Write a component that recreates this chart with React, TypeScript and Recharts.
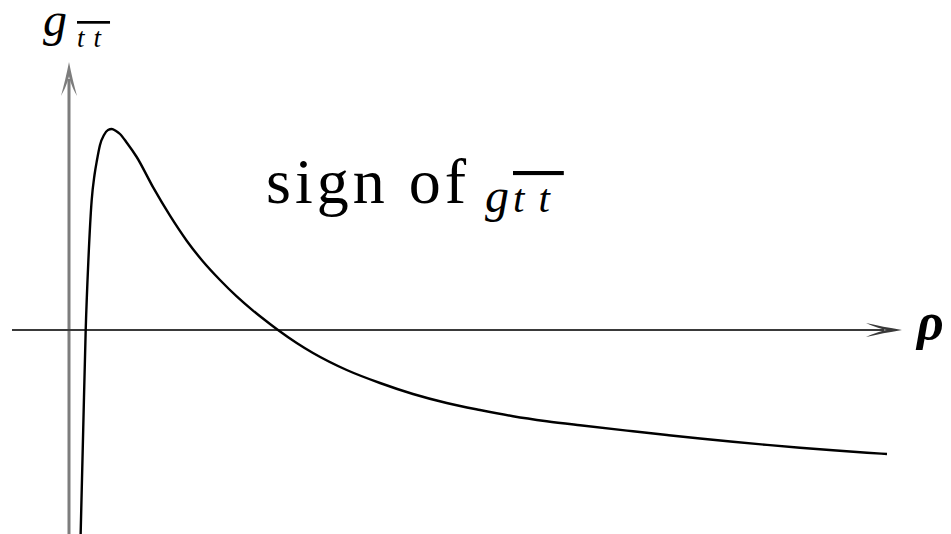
import React from 'react'
import { LineChart, Line, XAxis, YAxis, ReferenceLine } from 'recharts'

// Sampled curve of g_tt against rho
const rho = [
  0.115, 0.142, 0.167, 0.194, 0.227, 0.255, 0.28, 0.31, 0.35, 0.39, 0.427, 0.47,
  0.51, 0.58, 0.677, 0.843, 1.01, 1.177, 1.34, 1.51, 1.677, 1.84, 2.01, 2.09,
  2.277, 2.44, 2.777, 3.11, 3.44, 3.777, 4.11, 4.44, 4.777, 5.11, 5.64, 5.98,
  6.31, 6.64, 6.98, 7.31, 7.64, 7.98, 8.18,
]
const gtt = [
  -2.1, -1.0, 0, 0.7, 1.3, 1.55, 1.7, 1.85, 1.95, 2.0, 2.01, 1.99,
  1.96, 1.87, 1.73, 1.423, 1.143, 0.893, 0.685, 0.5, 0.336, 0.194, 0.06, 0,
  -0.13, -0.23, -0.4, -0.53, -0.64, -0.73, -0.8, -0.862, -0.912, -0.953, -1.013, -1.05,
  -1.085, -1.118, -1.149, -1.177, -1.203, -1.227, -1.24,
]

// Axis extents (in data units)
const rhoDomain = [-0.69, 8.82]
const gDomain = [-2.04, 3.3]
const rhoAxisStart = -0.57
const rhoAxisEnd = 8.33
const gAxisEnd = 2.68

const data = rho.map((r, i) => ({ rho: r, g: gtt[i] }))

const W = 951
const H = 534

// Line with a LaTeX-style arrowhead at its end point
function arrowShape(color: string, width: number, len: number, half: number) {
  return (props: any) => {
    const { x1, y1, x2, y2 } = props
    const ang = Math.atan2(y2 - y1, x2 - x1)
    const deg = (ang * 180) / Math.PI
    const bx = x2 - Math.cos(ang) * len * 0.5
    const by = y2 - Math.sin(ang) * len * 0.5
    const head = `M0,0 C${-len * 0.35},${-half * 0.3} ${-len * 0.7},${-half * 0.65} ${-len},${-half}
      C${-len * 0.75},${-half * 0.4} ${-len * 0.55},${-half * 0.12} ${-len * 0.42},0
      C${-len * 0.55},${half * 0.12} ${-len * 0.75},${half * 0.4} ${-len},${half}
      C${-len * 0.7},${half * 0.65} ${-len * 0.35},${half * 0.3} 0,0 Z`
    return (
      <g>
        <line x1={x1} y1={y1} x2={bx} y2={by} stroke={color} strokeWidth={width} />
        <path d={head} fill={color} transform={`translate(${x2},${y2}) rotate(${deg})`} />
      </g>
    )
  }
}

const serif = '"Liberation Serif"'

const roman = { fontFamily: serif }
const italic = { fontFamily: serif, fontStyle: 'italic' }
const barred = { fontFamily: serif, fontStyle: 'italic', textDecoration: 'overline' }

// Labels and caption, laid over the plot
function Annotations() {
  return (
    <svg
      width={W}
      height={H}
      style={{ position: 'absolute', left: 0, top: 0, pointerEvents: 'none' }}
    >
      <g fill="#000">
        {/* vertical axis label */}
        <text x={43} y={36} style={{ ...italic, fontSize: 48 }}>g</text>
        <text x={77} y={47} style={{ ...barred, fontSize: 27, letterSpacing: 9 }}>tt</text>

        {/* caption */}
        <text x={266} y={203} style={{ ...roman, fontSize: 64, letterSpacing: 4 }}>sign of</text>
        <text x={485} y={212} style={{ ...italic, fontSize: 48 }}>g</text>
        <text x={513} y={212} style={{ ...barred, fontSize: 41, letterSpacing: 14 }}>tt</text>

        {/* horizontal axis label */}
        <text x={917} y={339} style={{ ...italic, fontWeight: 'bold', fontSize: 52 }}>ρ</text>
      </g>
    </svg>
  )
}

export default function App() {
  return (
    <div style={{ position: 'absolute', left: 0, top: 0, width: W, height: H, background: '#fff' }}>
      <LineChart width={W} height={H} data={data} margin={{ top: 0, right: 0, bottom: 0, left: 0 }}>
        <XAxis type="number" dataKey="rho" domain={rhoDomain} allowDataOverflow hide />
        <YAxis type="number" domain={gDomain} allowDataOverflow hide />
        <ReferenceLine
          segment={[{ x: 0, y: gDomain[0] }, { x: 0, y: gAxisEnd }]}
          ifOverflow="visible"
          shape={arrowShape('#7d7d7d', 3, 34, 8)}
        />
        <ReferenceLine
          segment={[{ x: rhoAxisStart, y: 0 }, { x: rhoAxisEnd, y: 0 }]}
          ifOverflow="visible"
          shape={arrowShape('#3a3a3a', 2, 36, 7)}
        />
        <Line
          type="monotone"
          dataKey="g"
          stroke="#000"
          strokeWidth={2.4}
          dot={false}
          isAnimationActive={false}
        />
      </LineChart>
      <Annotations />
    </div>
  )
}
